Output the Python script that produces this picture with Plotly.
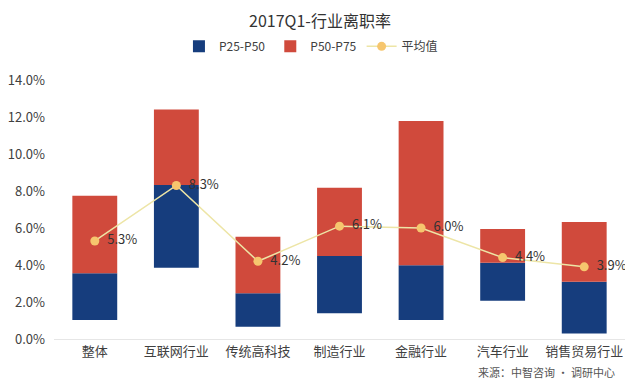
import plotly.graph_objects as go

categories = ["整体", "互联网行业", "传统高科技", "制造行业", "金融行业", "汽车行业", "销售贸易行业"]
p25 = [1.03, 3.85, 0.66, 1.39, 1.03, 2.07, 0.30]
p50 = [3.55, 8.32, 2.47, 4.49, 3.98, 4.12, 3.10]
p75 = [7.75, 12.40, 5.53, 8.18, 11.78, 5.95, 6.32]
avg = [5.3, 8.3, 4.2, 6.1, 6.0, 4.4, 3.9]
y_ticks = [0, 2, 4, 6, 8, 10, 12, 14]

FONT = "Noto Sans CJK SC, Lato, sans-serif"
BLUE = "#163D7D"
RED = "#D04A3C"

fig = go.Figure()
fig.add_trace(go.Bar(
    x=categories, y=[b - a for a, b in zip(p25, p50)], base=p25,
    name="P25-P50", marker=dict(color=BLUE, line=dict(width=0)),
    hoverinfo="skip",
))
fig.add_trace(go.Bar(
    x=categories, y=[b - a for a, b in zip(p50, p75)], base=p50,
    name="P50-P75", marker=dict(color=RED, line=dict(width=0)),
    hoverinfo="skip",
))
fig.add_trace(go.Scatter(
    x=categories, y=avg, name="平均值", mode="lines+markers+text",
    line=dict(color="#EDE5A6", width=1.5),
    marker=dict(color="#F6C66E", size=9),
    text=[f"  {v:.1f}%" for v in avg], textposition="middle right",
    textfont=dict(size=13, color="#333333", family=FONT),
))

fig.update_layout(
    width=640, height=385,
    barmode="overlay", bargap=0.45,
    margin=dict(l=54, r=15, t=80, b=46, autoexpand=False),
    paper_bgcolor="white", plot_bgcolor="white",
    font=dict(family=FONT, color="#404040", size=12),
    title=dict(text="2017Q1-行业离职率", x=0.5, xanchor="center", y=0.945, yanchor="middle",
               font=dict(size=16, color="#333333", family=FONT)),
    legend=dict(orientation="h", x=0.45, xanchor="center", y=1.13, yanchor="middle",
                font=dict(size=12, color="#404040"), itemwidth=30, traceorder="normal"),
    showlegend=True,
)
fig.update_xaxes(showgrid=False, showline=True, linecolor="#E6E6E6", linewidth=1,
                 tickfont=dict(size=13, color="#404040"), ticks="", automargin=False)
fig.update_yaxes(range=[0, 14], tickvals=y_ticks, ticktext=[f"{v:.1f}%" for v in y_ticks],
                 showgrid=False, zeroline=False, showline=False, ticks="", automargin=False,
                 ticklabelstandoff=8, tickfont=dict(size=13, color="#404040"))

fig.add_annotation(text="来源：中智咨询 · 调研中心", xref="paper", yref="paper",
                   x=(617 - 54) / 571, y=-33 / 259, xanchor="right", yanchor="middle",
                   showarrow=False, font=dict(size=11, color="#555555", family=FONT))

fig.write_html("out.html", config={"displayModeBar": False},
               post_script="document.body.style.margin='0';")
